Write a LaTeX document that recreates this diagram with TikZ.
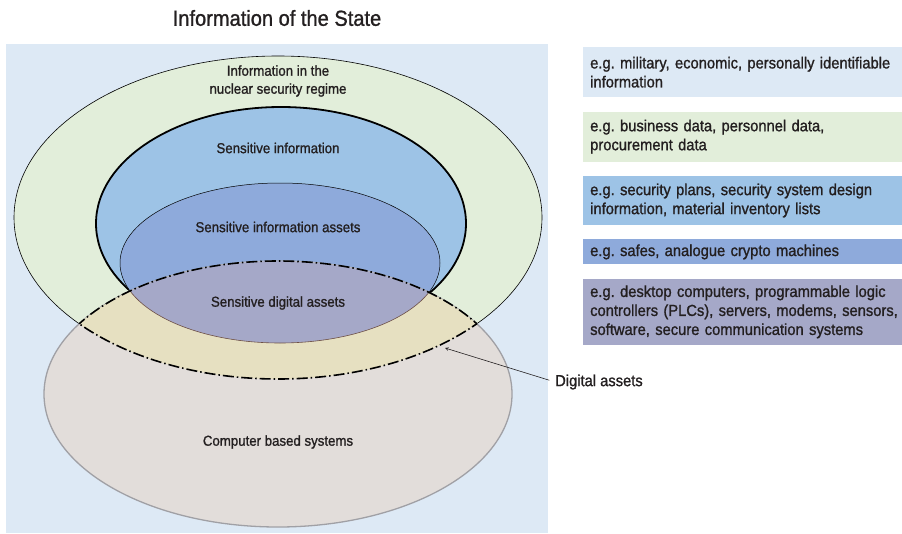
\documentclass[tikz,border=0pt]{standalone}
\usepackage{fontspec}
\setmainfont{Liberation Sans}[FakeStretch=0.92, FakeBold=1.1]
\frenchspacing
\usetikzlibrary{arrows}
\usetikzlibrary{positioning}
\definecolor{ink}{RGB}{35,31,32}
\definecolor{mstate}{RGB}{221,233,245}
\definecolor{mregime}{RGB}{226,238,218}
\definecolor{msens}{RGB}{157,195,230}
\definecolor{masset}{RGB}{142,170,219}
\definecolor{mdigital}{RGB}{165,168,200}
\definecolor{moverlap}{RGB}{230,224,193}
\definecolor{mcbs}{RGB}{226,221,218}
\definecolor{mcbsline}{RGB}{160,160,165}
\definecolor{mbrown}{RGB}{110,80,70}
\tikzset{
  lbl/.style={font=\fontsize{14.4}{18}\selectfont, text=ink, align=center, inner sep=0pt},
  egbox/.style={text width=312pt, inner xsep=7pt, inner ysep=0pt, align=left,
    font=\fontsize{16}{19}\selectfont, text=ink},
  dashdotline/.style={line width=1.6pt, dash pattern=on 11pt off 3pt on 1.5pt off 3pt}
}

\begin{document}
\begin{tikzpicture}[x=1pt,y=-1pt]
      \useasboundingbox (0,0) rectangle (902,533);
      \node[font=\fontsize{21.8}{24}\selectfont, text=ink] (state) at (277,18) {Information of the State};
      \fill [mstate] (6,44) rectangle (548,533);

      % ellipses
      \draw [fill=mregime, line width=0.6pt] (278,217.5) ellipse [x radius=264pt, y radius=161.5pt];
      \draw [fill=msens, line width=1.8pt] (281,223.5) ellipse [x radius=185pt, y radius=116.5pt];
      \draw [fill=masset, line width=0.5pt] (280,263) ellipse [x radius=160pt, y radius=80pt];
      \draw [fill=mcbs, draw=mcbsline, line width=1.3pt] (278,394) ellipse [x radius=234pt, y radius=133pt];

      \begin{scope}
        \clip (278,394) ellipse [x radius=234pt, y radius=133pt];
        \fill [moverlap] (278,217.5) ellipse [x radius=264pt, y radius=161.5pt];
        \draw [fill=mdigital, draw=mbrown, line width=0.6pt] (280,263) ellipse [x radius=160pt, y radius=80pt];
        \draw [dashdotline] (278,217.5) ellipse [x radius=264pt, y radius=161.5pt];
      \end{scope}
      \begin{scope}
        \clip (278,217.5) ellipse [x radius=264pt, y radius=161.5pt];
        \draw [dashdotline] (278,394) ellipse [x radius=234pt, y radius=133pt];
      \end{scope}

      % labels
      \node[lbl] (regime) at (278,81) {Information in the\\nuclear security regime};
      \node[lbl] (sensinfo) at (278,148) {Sensitive information};
      \node[lbl] (sensasset) at (278,227) {Sensitive information assets};
      \node[lbl] (sensdigital) at (278,303) {Sensitive digital assets};
      \node[lbl] (cbs) at (278,442) {Computer based systems};
      \node[lbl, font=\fontsize{16}{19}\selectfont, anchor=west] (digital) at (555,382) {Digital assets};
      \coordinate (digtip) at (445,348);
      \draw [-stealth, line width=0.6pt, ink, shorten <=6pt] (digital.west) -- (digtip);

      % examples
      \node[egbox, fill=mstate, minimum height=50pt, anchor=north west] (exstate) at (583,47)
        {e.g. military, economic, personally identifiable\\information};
      \node[egbox, fill=mregime, minimum height=50pt, below=14pt of exstate] (exregime)
        {e.g. business data, personnel data,\\procurement data};
      \node[egbox, fill=msens, minimum height=49pt, below=14pt of exregime] (exsens)
        {e.g. security plans, security system design\\information, material inventory lists};
      \node[egbox, fill=masset, minimum height=25pt, below=14pt of exsens] (exasset)
        {e.g. safes, analogue crypto machines};
      \node[egbox, fill=mdigital, minimum height=66pt, below=14pt of exasset] (exdigital)
        {e.g. desktop computers, programmable logic\\controllers (PLCs), servers, modems, sensors,\\software, secure communication systems};
    \end{tikzpicture}
\end{document}
